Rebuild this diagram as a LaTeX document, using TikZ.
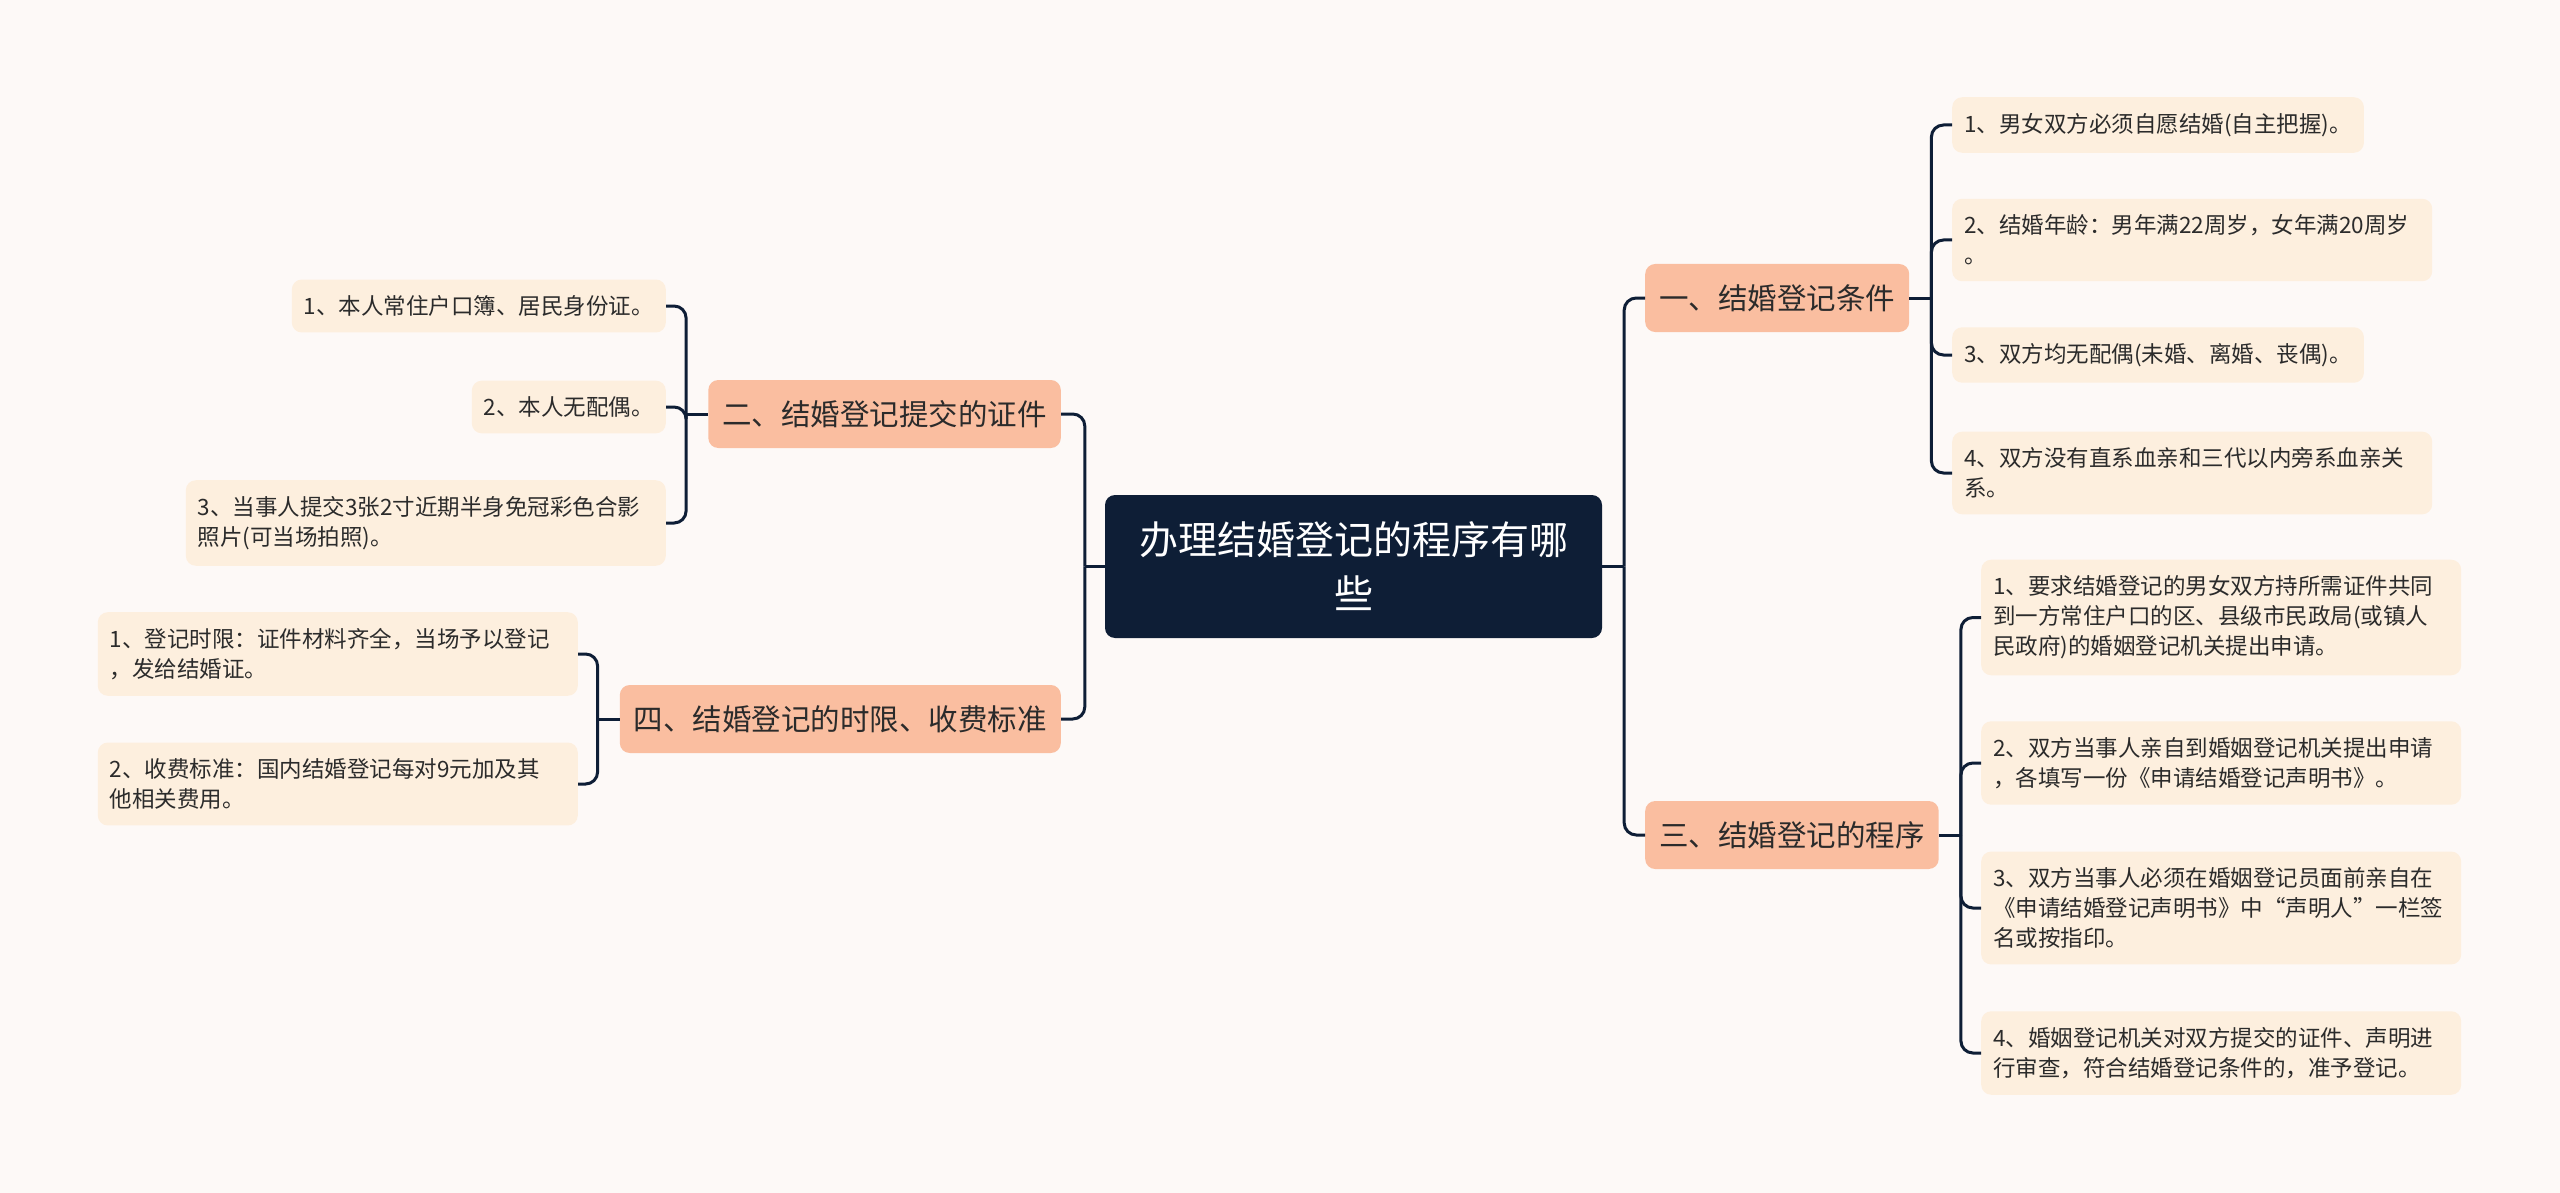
\documentclass[tikz,border=0pt]{standalone}
\usepackage{fontspec}
\setmainfont{Noto Sans CJK SC}
\usepackage{xcolor}
\usetikzlibrary{calc}

\definecolor{navy}{HTML}{0E1E36}
\definecolor{salmon}{HTML}{FABEA0}
\definecolor{cream}{HTML}{FDEFDE}
\definecolor{paper}{HTML}{FDF9F7}
\definecolor{ink}{HTML}{2B2B2B}

\begin{document}
\begin{tikzpicture}[x=1pt, y=-1pt,
  root/.style={fill=navy, rounded corners=10pt, text=white, align=center, minimum width=497pt, minimum height=143pt, inner sep=0pt, font=\fontsize{39}{54}\selectfont},
  topic/.style={fill=salmon, rounded corners=10pt, text=ink, minimum height=68pt, inner xsep=14pt, inner ysep=0pt, font=\fontsize{29.5}{34}\selectfont},
  leaf/.style={fill=cream, rounded corners=10pt, text=ink, align=left, inner xsep=12pt, inner ysep=16pt, font=\fontsize{22.5}{30}\selectfont},
  leafwide/.style={leaf, text width=456pt},
  link/.style={draw=navy, line width=3pt, rounded corners=12pt}
]
\fill[paper] (0,0) rectangle (2560,1193);
\useasboundingbox (0,0) rectangle (2560,1193);

% centre
\node[root] (root) at (1353.5,566.5) {办理结婚登记的程序有哪\\些};

% main topics
\node[topic, anchor=west] (t1) at (1645,298) {一、结婚登记条件};
\node[topic, anchor=east] (t2) at (1061,414) {二、结婚登记提交的证件};
\node[topic, anchor=west] (t3) at (1645,835) {三、结婚登记的程序};
\node[topic, anchor=east] (t4) at (1061,719) {四、结婚登记的时限、收费标准};

% 一
\node[leaf, anchor=west] (t1c1) at (1952,125) {1、男女双方必须自愿结婚(自主把握)。};
\node[leafwide, anchor=west] (t1c2) at (1952,240) {2、结婚年龄：男年满22周岁，女年满20周岁\\。};
\node[leaf, anchor=west] (t1c3) at (1952,355) {3、双方均无配偶(未婚、离婚、丧偶)。};
\node[leafwide, anchor=west] (t1c4) at (1952,473) {4、双方没有直系血亲和三代以内旁系血亲关\\系。};

% 二
\node[leaf, anchor=east] (t2c1) at (666,306) {1、本人常住户口簿、居民身份证。};
\node[leaf, anchor=east] (t2c2) at (666,407) {2、本人无配偶。};
\node[leafwide, anchor=east] (t2c3) at (666,523) {3、当事人提交3张2寸近期半身免冠彩色合影\\照片(可当场拍照)。};

% 三
\node[leafwide, anchor=west] (t3c1) at (1981,617.5) {1、要求结婚登记的男女双方持所需证件共同\\到一方常住户口的区、县级市民政局(或镇人\\民政府)的婚姻登记机关提出申请。};
\node[leafwide, anchor=west] (t3c2) at (1981,763) {2、双方当事人亲自到婚姻登记机关提出申请\\，各填写一份《申请结婚登记声明书》。};
\node[leafwide, anchor=west] (t3c3) at (1981,908) {3、双方当事人必须在婚姻登记员面前亲自在\\《申请结婚登记声明书》中“声明人”一栏签\\名或按指印。};
\node[leafwide, anchor=west] (t3c4) at (1981,1053) {4、婚姻登记机关对双方提交的证件、声明进\\行审查，符合结婚登记条件的，准予登记。};

% 四
\node[leafwide, anchor=east] (t4c1) at (578,654) {1、登记时限：证件材料齐全，当场予以登记\\，发给结婚证。};
\node[leafwide, anchor=east] (t4c2) at (578,784) {2、收费标准：国内结婚登记每对9元加及其\\他相关费用。};

% links
\coordinate (lb) at ($(root.west)+(-20,0)$);
\coordinate (rb) at ($(root.east)+(22,0)$);
\draw[link] (root.west) -- (lb);
\draw[link] (root.east) -- (rb);
\foreach \t in {t2,t4} \draw[link] (lb) |- (\t.east);
\foreach \t in {t1,t3} \draw[link] (rb) |- (\t.west);

\coordinate (b1) at ($(t1.east)+(22,0)$);
\coordinate (b2) at ($(t2.west)+(-22,0)$);
\coordinate (b3) at ($(t3.east)+(22,0)$);
\coordinate (b4) at ($(t4.west)+(-22,0)$);
\draw[link] (t1.east) -- (b1);
\draw[link] (t2.west) -- (b2);
\draw[link] (t3.east) -- (b3);
\draw[link] (t4.west) -- (b4);
\foreach \i in {1,...,4} \draw[link] (b1) |- (t1c\i.west);
\foreach \i in {1,...,3} \draw[link] (b2) |- (t2c\i.east);
\foreach \i in {1,...,4} \draw[link] (b3) |- (t3c\i.west);
\foreach \i in {1,2} \draw[link] (b4) |- (t4c\i.east);
\end{tikzpicture}
\end{document}
